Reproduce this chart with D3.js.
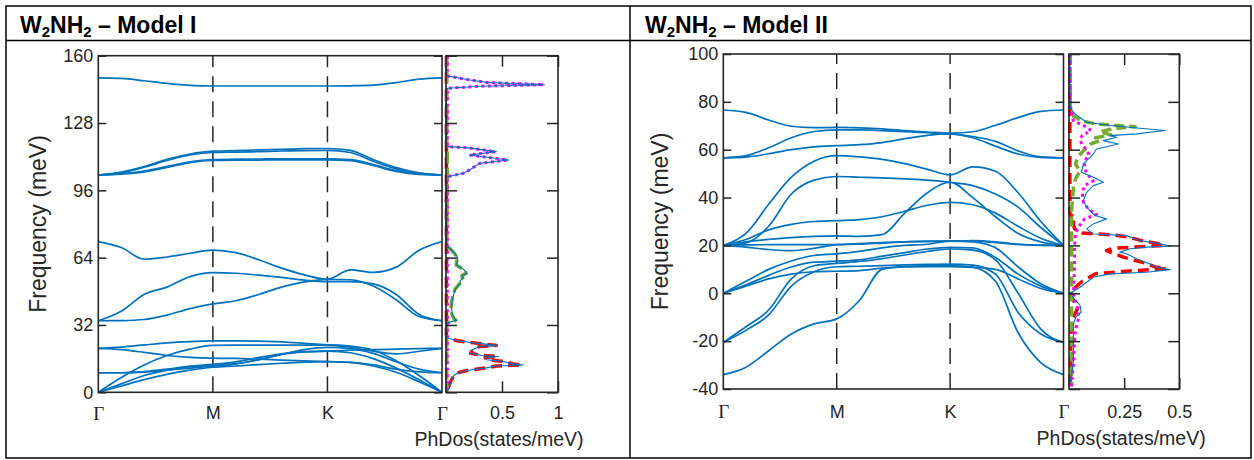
<!DOCTYPE html>
<html><head><meta charset="utf-8">
<script src="https://cdn.jsdelivr.net/npm/d3@7"></script>
<style>body{margin:0;background:#fff}</style>
</head><body>
<svg id="chart" width="1254" height="460"></svg>
<script>
// ---------------- data ----------------
const kPath = [0,0.2,0.4,0.6,0.8,1,1.2,1.4,1.6,1.8,2,2.2,2.4,2.6,2.8,3];
const kTickPos = [0,1,2,3];
const kTickLabels = ['Γ','M','K','Γ'];
const freqTicksI = [0,32,64,96,128,160];
const freqTicksII = [-40,-20,0,20,40,60,80,100];
const dosTicksI = [0.5,1];
const dosTicksII = [0.25,0.5];

// Model I bands (meV) along Γ-M-K-Γ
const bandsI_high = [
 [149.5,149.2,148.1,146.8,145.9,145.6,145.6,145.6,145.6,145.6,145.6,145.7,146.0,147.2,148.9,149.5],
 [103.3,104.7,107.3,110.7,113.2,114.6,114.9,115.2,115.5,115.8,115.9,115.0,110.6,106.8,104.3,103.3],
 [103.3,104.4,107.0,110.2,112.8,114.0,114.2,114.4,114.7,114.9,115.0,114.0,109.8,106.2,104.0,103.3],
 [103.3,103.9,105.2,107.4,109.6,110.6,110.8,110.9,111.0,111.0,111.0,110.6,108.3,105.4,103.8,103.3],
 [103.3,103.7,104.8,106.9,109.2,110.2,110.3,110.4,110.5,110.5,110.5,110.1,107.8,105.0,103.6,103.3]
];
const bandsI_mid = [
 [71.6,68.8,63.3,64.3,66.1,67.6,66.4,63.0,59.0,55.8,53.7,58.2,57.0,59.5,67.5,71.6],
 [34.0,38.5,46.5,50.0,55.0,56.9,56.6,55.7,54.6,53.3,52.6,52.6,51.5,46.5,37.0,34.0],
 [34.0,34.1,34.6,36.7,39.8,42.0,43.5,46.5,50.0,52.5,53.7,53.5,50.5,44.0,36.0,34.0]
];
const bandsI_low = [
 [0,3,6,8.5,10.5,11.9,12.5,13.2,13.8,14.3,14.6,14.2,12.5,9.5,5,0],
 [0,4,8,10.5,12.3,13.3,14.5,16.5,18.3,19.3,19.6,18.8,16,11.5,6,0],
 [0,7,13,17.5,20.5,22.3,22.4,22.4,22.4,22.4,22.5,22,20,15,8,0],
 [9.3,9.3,9.6,10.5,11.5,12.5,13.5,15.5,18,20.3,21.4,20.8,18.5,14.5,11,9.3],
 [9.3,9.3,9.8,11,12.3,12.8,13.5,15.5,18,19.2,19.6,20,20.3,20.5,20.8,20.9],
 [20.9,20.3,19,17.5,16.6,16.2,16.1,15.8,15.3,14.9,14.6,14.2,13,11,9.7,9.3],
 [20.9,21.5,22.5,23.5,24.1,24.4,24.4,24.3,24,23.3,22.5,21.5,19.5,18.3,19.5,20.9]
];

// Model II bands
const bandsII_high = [
 [76.6,75.6,72.4,69.8,69.2,69.3,69.1,68.7,68.0,67.4,66.9,67.5,70.2,73.4,76.0,76.6],
 [56.6,57.5,60.8,65.0,67.6,68.3,68.3,68.0,67.6,67.1,66.6,65.5,63.5,59.5,57.0,56.6],
 [56.6,56.9,58.3,60.0,61.2,61.7,62.1,63.0,64.6,66.0,66.6,65.0,61.5,58.2,56.8,56.6]
];
const bandsII_mid = [
 [20,25,37.2,48.5,55.2,57.5,57,56,54.2,51.8,49.5,52.8,51,42,30,20],
 [20,21,28,41.5,47.3,48.8,48.5,48.2,47.8,47.3,46.4,45.0,41.5,36.0,27.5,20],
 [20,22.5,26.5,28.8,30,30.4,30.8,32,34.3,36.8,38,37,33.5,28,23,20],
 [20,21.5,22.5,23.3,23.8,24,23.8,24.5,33.5,42,46.4,40,32,25,21.5,20]
];
const bandsII_low = [
 [-34,-30.9,-24,-17,-12.8,-10.7,-3,10,11.2,11.5,11.6,10.9,5,-16.5,-29,-34],
 [-20.5,-14,-7,6,11.5,12.5,13.3,14.5,16,17.5,18.5,18,14,0,-15,-20.5],
 [-20.5,-15.5,-9,3,9,11.1,11.3,11.6,11.9,12.1,12.2,11.8,8,-8,-17,-20.5],
 [0,3,6,8,9,9.2,9.5,10.5,11,11.1,11.1,10.8,10,6,2,0],
 [0,3.5,7.5,11,13,13.4,14,15.5,17,18.5,19.2,19,15,8,3,0],
 [0,5,10,13.5,15.8,16.5,17.5,19,20,20.5,21.8,21.5,19,11,4,0],
 [20,20.2,20.3,20.3,20.3,20.3,20.5,21,21.5,21.8,21.8,22,21.5,20.5,20,20],
 [20,19.3,18.3,17.8,18.8,20.3,20.8,21.2,21.5,21.6,21.8,21.8,21.2,20.4,20.1,20]
];

// Phonon DOS: [frequency (meV), states/meV]
const dosI_total = [[160,0.004],[151,0.004],[150.3,0.02],[148.6,0.2],[147.3,0.36],[146.2,0.88],[145.5,0.3],[144.5,0.02],[144,0.004],
 [117.2,0.004],[116.8,0.015],[116.2,0.2],[114.4,0.45],[112.8,0.21],[110.4,0.56],[108.8,0.3],[105.7,0.21],[104.1,0.155],[102.5,0.015],[102,0.004],
 [71,0.004],[69.2,0.02],[67.5,0.055],[66,0.08],[64,0.105],[62,0.1],[60.5,0.095],[58.5,0.155],[57.3,0.175],[56.5,0.185],[55.5,0.145],[54.5,0.155],[53,0.125],[51.5,0.125],[49,0.085],[46,0.065],[43,0.055],[40.5,0.05],[37.5,0.055],[35,0.075],[34.3,0.095],[33.5,0.045],[32.8,0.008],[30,0.004],
 [26.2,0.004],[25.6,0.03],[24.5,0.1],[23.5,0.25],[22.3,0.46],[21.8,0.3],[20.3,0.24],[18.5,0.22],[17.5,0.32],[17,0.47],[16.5,0.35],[15.5,0.36],[14.8,0.5],[13.5,0.6],[13,0.69],[12.5,0.45],[11.5,0.35],[10.5,0.2],[9.5,0.12],[8,0.07],[5,0.045],[2,0.03],[0,0]];
const dosI_magenta = [[160,0.012],[151,0.012],[150.3,0.02],[148.6,0.2],[147.3,0.36],[146.2,0.87],[145.5,0.3],[144.5,0.02],[144,0.012],
 [117.2,0.012],[116.8,0.015],[116.2,0.2],[114.4,0.44],[112.8,0.21],[110.4,0.55],[108.8,0.3],[105.7,0.21],[104.1,0.155],[102.5,0.015],[102,0.012],[0,0.012]];
const dosI_green = [[160,0.006],[117,0.006],[114,0.012],[104,0.012],[72,0.006],[70,0.008],[69.2,0.015],[67.5,0.05],[66,0.075],[64,0.1],[62,0.095],[60.5,0.09],[58.5,0.15],[57.3,0.17],[56.5,0.18],[55.5,0.14],[54.5,0.15],[53,0.12],[51.5,0.12],[49,0.08],[46,0.06],[43,0.05],[40.5,0.045],[37.5,0.05],[35,0.07],[34.3,0.09],[33.5,0.04],[32.8,0.006],[0,0.006]];
const dosI_red = [[160,0.004],[27,0.004],[26,0.01],[25.6,0.03],[24.5,0.1],[23.5,0.25],[22.3,0.45],[21.8,0.3],[20.3,0.24],[18.5,0.22],[17.5,0.32],[17,0.46],[16.5,0.35],[15.5,0.36],[14.8,0.5],[13.5,0.6],[13,0.68],[12.5,0.45],[11.5,0.35],[10.5,0.2],[9.5,0.12],[8,0.07],[5,0.04],[2,0.02],[0,0.004]];

const dosII_total = [[100,0.004],[80,0.004],[77.7,0.005],[74.9,0.027],[71.5,0.08],[70.1,0.186],[68.0,0.435],[66.6,0.306],[65.9,0.186],[65.2,0.216],[63.8,0.156],[62.4,0.224],[60.3,0.125],[58.2,0.11],[56.2,0.088],[54.1,0.065],[50.6,0.057],[48.5,0.11],[46.4,0.156],[45.0,0.11],[42.2,0.08],[38.7,0.065],[36.0,0.08],[32.5,0.118],[31.1,0.17],[29.0,0.11],[26.9,0.08],[24.8,0.11],[24.1,0.261],[22.0,0.322],[20.7,0.412],[19.7,0.458],[19.3,0.352],[18.6,0.277],[17.2,0.231],[16.5,0.261],[14.4,0.306],[12.2,0.367],[10.9,0.397],[9.9,0.458],[8.8,0.352],[8.1,0.186],[6.7,0.11],[2.5,0.05],[0.0,0.005],[-3,0.03],[-5,0.05],[-8,0.055],[-10,0.03],[-13,0.02],[-17,0.02],[-21.2,0.02],[-28.1,0.02],[-33.7,0.012],[-39.3,0.0]];
const dosII_green = [[100,0.006],[78,0.006],[74,0.02],[72,0.06],[70.8,0.12],[69.6,0.3],[68.8,0.2],[67.5,0.14],[66.2,0.19],[65,0.12],[63.8,0.14],[62.5,0.1],[60,0.07],[57,0.04],[54,0.03],[51,0.05],[48,0.03],[44,0.02],[35,0.012],[-39,0.012]];
const dosII_magenta = [[100,0.005],[78,0.005],[72,0.02],[69.5,0.08],[68,0.1],[66,0.06],[64,0.05],[62,0.06],[60,0.08],[58,0.09],[55,0.07],[52,0.07],[49,0.09],[47,0.11],[45,0.07],[42,0.06],[38,0.065],[35,0.09],[33,0.125],[31,0.07],[28,0.045],[25,0.03],[20,0.025],[10,0.025],[0,0.02],[-5,0.035],[-10,0.045],[-15,0.03],[-20,0.025],[-30,0.02],[-39,0.01]];
const dosII_red = [[100,0.004],[33,0.004],[31.5,0.03],[29.5,0.018],[27,0.025],[25.2,0.06],[24.4,0.2],[23.5,0.27],[22.2,0.32],[21,0.39],[20,0.43],[19.5,0.33],[18.8,0.2],[17.8,0.17],[16.8,0.2],[15,0.25],[12.5,0.35],[11,0.39],[10.3,0.44],[9.5,0.3],[8.2,0.12],[5,0.06],[1,0.01],[0,0.005],[-3,0.02],[-6,0.04],[-8,0.03],[-12,0.01],[-39,0.005]];

// ---------------- drawing ----------------
const svg = d3.select('#chart');
const INK = '#262626';
const BLUE = '#0072BD';
const FONT = '"Liberation Sans", Arial, sans-serif';

// table frame
svg.append('rect').attr('x',6).attr('y',6).attr('width',1245).attr('height',452)
  .attr('fill','none').attr('stroke','#000').attr('stroke-width',1.5);
svg.append('line').attr('x1',6).attr('x2',1251).attr('y1',40.5).attr('y2',40.5).attr('stroke','#000').attr('stroke-width',1.3);
svg.append('line').attr('x1',630).attr('x2',630).attr('y1',6).attr('y2',458).attr('stroke','#000').attr('stroke-width',1.5);

function title(x, suffix){
  const t = svg.append('text').attr('x',x).attr('y',33).attr('font-family',FONT)
    .attr('font-weight','bold').attr('font-size',23).attr('fill','#000');
  t.append('tspan').text('W');
  t.append('tspan').attr('font-size',15).attr('dy',4).text('2');
  t.append('tspan').attr('dy',-4).text('NH');
  t.append('tspan').attr('font-size',15).attr('dy',4).text('2');
  t.append('tspan').attr('dy',-4).text(' – Model ' + suffix);
}
title(20,'I');
title(645,'II');

function drawPanel(p){
  const g = svg.append('g');
  const x = d3.scaleLinear().domain([0,3]).range([p.bx0,p.bx1]);
  const y = d3.scaleLinear().domain(p.yDom).range([p.yb,p.yt]);
  const xd = d3.scaleLinear().domain([0,p.dosMax]).range([p.dx0,p.dx1]);
  const defs = svg.append('defs');
  defs.append('clipPath').attr('id','cb'+p.id).append('rect')
    .attr('x',p.bx0).attr('y',p.yt).attr('width',p.bx1-p.bx0).attr('height',p.yb-p.yt);
  defs.append('clipPath').attr('id','cd'+p.id).append('rect')
    .attr('x',p.dx0-3).attr('y',p.yt).attr('width',p.dx1-p.dx0+3).attr('height',p.yb-p.yt);

  // dashed symmetry lines
  [1,2].forEach(k=>{
    g.append('line').attr('x1',x(k)).attr('x2',x(k)).attr('y1',p.yb).attr('y2',p.yt)
      .attr('stroke',INK).attr('stroke-width',1.5).attr('stroke-dasharray','16,9');
  });

  // bands
  const line = d3.line().x((d,i)=>x(kPath[i])).y(d=>y(d)).curve(d3.curveMonotoneX);
  const bg = g.append('g').attr('clip-path',`url(#cb${p.id})`);
  p.bands.forEach(b=>{
    bg.append('path').attr('d',line(b)).attr('fill','none').attr('stroke',BLUE).attr('stroke-width',1.7);
  });

  // DOS
  const dl = d3.line().x(d=>xd(d[1])).y(d=>y(d[0]));
  const dg = g.append('g').attr('clip-path',`url(#cd${p.id})`);
  p.dos.forEach(s=>{
    dg.append('path').attr('d',dl(s.data)).attr('fill','none').attr('stroke',s.color)
      .attr('stroke-width',s.w).attr('stroke-dasharray',s.dash||null).attr('stroke-linejoin','round');
  });

  // frames
  [[p.bx0,p.bx1],[p.dx0,p.dx1]].forEach(([a,b])=>{
    g.append('rect').attr('x',a).attr('y',p.yt).attr('width',b-a).attr('height',p.yb-p.yt)
      .attr('fill','none').attr('stroke',INK).attr('stroke-width',1.6);
  });

  const styleAxis = sel => {
    sel.select('.domain').remove();
    sel.selectAll('line').attr('stroke',INK).attr('stroke-width',1.5);
    sel.selectAll('text').attr('font-family',FONT).attr('font-size',18).attr('fill',INK);
  };
  g.append('g').attr('transform',`translate(${p.bx0},0)`)
    .call(d3.axisLeft(y).tickValues(p.yTicks).tickSize(-8).tickPadding(5).tickFormat(d=>String(d))).call(styleAxis);
  g.append('g').attr('transform',`translate(${p.bx1},0)`)
    .call(d3.axisRight(y).tickValues(p.yTicks).tickSize(-8).tickFormat('')).call(styleAxis);
  g.append('g').attr('transform',`translate(${p.dx0},0)`)
    .call(d3.axisLeft(y).tickValues(p.yTicks).tickSize(-11).tickFormat('')).call(styleAxis);
  g.append('g').attr('transform',`translate(${p.dx1},0)`)
    .call(d3.axisRight(y).tickValues(p.yTicks).tickSize(-11).tickFormat('')).call(styleAxis);
  g.append('g').attr('transform',`translate(0,${p.yb})`)
    .call(d3.axisBottom(xd).tickValues(p.dosTicks).tickSize(-11).tickPadding(p.labPad).tickFormat(d=>String(d))).call(styleAxis);
  g.append('g').attr('transform',`translate(0,${p.yt})`)
    .call(d3.axisTop(xd).tickValues(p.dosTicks).tickSize(-11).tickFormat('')).call(styleAxis);
  const kx = g.append('g').attr('transform',`translate(0,${p.yb})`)
    .call(d3.axisBottom(x).tickValues(kTickPos).tickSize(0).tickPadding(p.labPad).tickFormat(i=>kTickLabels[i])).call(styleAxis);
  kx.selectAll('text').filter(d=>kTickLabels[d]==='Γ')
    .attr('font-family','"Liberation Serif", "Times New Roman", serif').attr('font-size',19);

  // axis titles
  g.append('text').attr('transform',`translate(${p.ylabX},${(p.yt+p.yb)/2}) rotate(-90)`)
    .attr('text-anchor','middle').attr('font-family',FONT).attr('font-size',23).attr('fill',INK)
    .text('Frequency (meV)');
  g.append('text').attr('x',(p.dx0+p.dx1)/2 - 3).attr('y',p.xlabY).attr('text-anchor','middle')
    .attr('font-family',FONT).attr('font-size',19.5).attr('fill',INK).text('PhDos(states/meV)');
}

const dosStyle = (data,color,w,dash)=>({data,color,w,dash});

drawPanel({
  id:'I', bx0:98.3, bx1:442, dx0:446, dx1:558, yt:55.7, yb:392.3,
  yDom:[0,160], yTicks:freqTicksI, dosMax:1, dosTicks:dosTicksI, labPad:14,
  ylabX:46, xlabY:446,
  bands:[...bandsI_high,...bandsI_mid,...bandsI_low],
  dos:[
    dosStyle(dosI_red,'#FF0000',3.5,'11,6'),
    dosStyle(dosI_green,'#77AC30',3.5,'12,4'),
    dosStyle(dosI_magenta,'#FF00FF',3,'3,3.5'),
    dosStyle(dosI_total,BLUE,1.1,null)
  ]
});
drawPanel({
  id:'II', bx0:723.3, bx1:1063.5, dx0:1069, dx1:1179.3, yt:54, yb:389,
  yDom:[-40,100], yTicks:freqTicksII, dosMax:0.5, dosTicks:dosTicksII, labPad:16,
  ylabX:668, xlabY:445,
  bands:[...bandsII_high,...bandsII_mid,...bandsII_low],
  dos:[
    dosStyle(dosII_red,'#FF0000',3.5,'11,6'),
    dosStyle(dosII_green,'#77AC30',3.5,'10,5'),
    dosStyle(dosII_magenta,'#FF00FF',3,'3,3.5'),
    dosStyle(dosII_total,BLUE,1.1,null)
  ]
});
</script>
</body></html>
